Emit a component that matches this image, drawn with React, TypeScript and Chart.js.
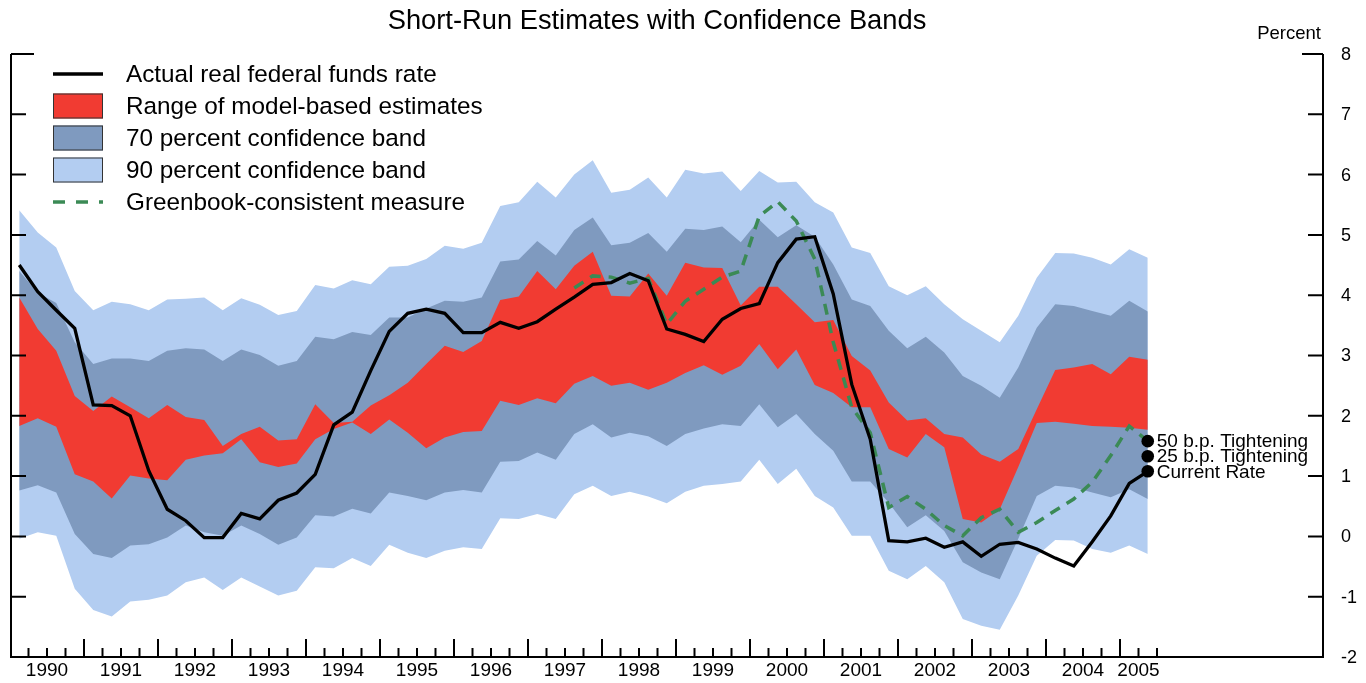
import React, { useEffect, useRef } from "react";
import { Chart, registerables } from "chart.js";

Chart.register(...registerables);

// ---------- data (quarterly, 1990Q1 .. 2005Q2) ----------
const START_YEAR = 1990;
const yearLabels = ["1990", "1991", "1992", "1993", "1994", "1995", "1996", "1997", "1998", "1999", "2000", "2001", "2002", "2003", "2004", "2005"];
const yTickValues = [-2, -1, 0, 1, 2, 3, 4, 5, 6, 7, 8];

const actualRate = [
  4.5, 4.06, 3.75, 3.45, 2.18, 2.17, 2.0, 1.09, 0.45, 0.26,
  -0.02, -0.02, 0.38, 0.29, 0.6, 0.72, 1.03, 1.85, 2.06, 2.75,
  3.4, 3.7, 3.77, 3.7, 3.38, 3.38, 3.55, 3.45, 3.56, 3.77,
  3.97, 4.18, 4.21, 4.36, 4.24, 3.44, 3.35, 3.23, 3.6, 3.78,
  3.86, 4.54, 4.93, 4.97, 4.02, 2.52, 1.61, -0.07, -0.09, -0.03,
  -0.18, -0.09, -0.33, -0.13, -0.1, -0.21, -0.36, -0.49, -0.09, 0.34,
  0.88, 1.08,
];

const greenbookStart = 30;
const greenbook = [
  4.12, 4.32, 4.3, 4.2, 4.28, 3.52, 3.9, 4.1, 4.3, 4.4,
  5.31, 5.55, 5.23, 4.6, 3.22, 2.14, 1.72, 0.48, 0.66, 0.45,
  0.18, 0.01, 0.31, 0.45, 0.07, 0.23, 0.43, 0.62, 0.9, 1.34,
  1.83, 1.58,
];

const band90Upper = [
  5.41, 5.04, 4.79, 4.07, 3.75, 3.89, 3.85, 3.75, 3.93, 3.94,
  3.96, 3.75, 3.95, 3.84, 3.67, 3.74, 4.17, 4.11, 4.25, 4.18,
  4.47, 4.49, 4.6, 4.82, 4.77, 4.87, 5.48, 5.54, 5.88, 5.62,
  6.0, 6.24, 5.7, 5.75, 5.95, 5.62, 6.08, 6.02, 6.05, 5.73,
  6.06, 5.87, 5.88, 5.54, 5.37, 4.79, 4.7, 4.15, 4.0, 4.15,
  3.85, 3.6, 3.41, 3.22, 3.66, 4.29, 4.7, 4.69, 4.62, 4.51,
  4.76, 4.62,
];
const band90Lower = [
  -0.04, 0.07, 0.01, -0.87, -1.22, -1.33, -1.08, -1.05, -0.98, -0.76,
  -0.68, -0.89, -0.68, -0.83, -0.98, -0.9, -0.51, -0.53, -0.36, -0.49,
  -0.14, -0.27, -0.36, -0.24, -0.18, -0.21, 0.3, 0.29, 0.37, 0.29,
  0.7, 0.84, 0.67, 0.74, 0.66, 0.55, 0.74, 0.84, 0.87, 0.91,
  1.27, 0.87, 1.12, 0.67, 0.48, 0.01, 0.01, -0.57, -0.71, -0.49,
  -0.76, -1.37, -1.48, -1.55, -0.98, -0.32, -0.06, -0.07, -0.21, -0.27,
  -0.15, -0.29,
];
const band70Upper = [
  4.4, 4.04, 3.87, 3.22, 2.86, 2.95, 2.95, 2.91, 3.08, 3.12,
  3.1, 2.91, 3.1, 3.01, 2.83, 2.91, 3.31, 3.27, 3.39, 3.34,
  3.63, 3.63, 3.78, 3.91, 3.89, 3.96, 4.56, 4.59, 4.9, 4.66,
  5.08, 5.29, 4.83, 4.87, 5.03, 4.72, 5.1, 5.08, 5.14, 4.88,
  5.25, 4.96, 5.16, 4.97, 4.51, 3.93, 3.82, 3.41, 3.12, 3.31,
  3.05, 2.66, 2.5, 2.3, 2.8, 3.46, 3.85, 3.82, 3.74, 3.66,
  3.91, 3.73,
];
const band70Lower = [
  0.76, 0.85, 0.73, 0.04, -0.29, -0.36, -0.15, -0.13, -0.02, 0.18,
  0.07, 0.01, 0.18, 0.04, -0.14, -0.02, 0.35, 0.33, 0.46, 0.38,
  0.73, 0.67, 0.6, 0.73, 0.77, 0.73, 1.24, 1.25, 1.39, 1.27,
  1.7, 1.86, 1.64, 1.72, 1.66, 1.5, 1.7, 1.79, 1.86, 1.83,
  2.19, 1.81, 2.03, 1.7, 1.42, 0.91, 0.91, 0.56, 0.15, 0.35,
  0.09, -0.43, -0.6, -0.71, -0.04, 0.67, 0.84, 0.81, 0.73, 0.65,
  0.78, 0.62,
];
const modelUpper = [
  3.96, 3.44, 3.08, 2.33, 2.08, 2.32, 2.14, 1.96, 2.18, 1.98,
  1.93, 1.5, 1.7, 1.82, 1.59, 1.61, 2.19, 1.88, 1.9, 2.17,
  2.34, 2.55, 2.86, 3.16, 3.06, 3.24, 3.92, 3.98, 4.4, 4.1,
  4.49, 4.72, 3.99, 3.98, 4.36, 3.99, 4.54, 4.46, 4.45, 3.83,
  4.14, 4.14, 3.85, 3.55, 3.59, 2.99, 2.75, 2.22, 1.92, 1.96,
  1.7, 1.64, 1.36, 1.24, 1.45, 2.11, 2.76, 2.8, 2.86, 2.69,
  2.98, 2.93,
];
const modelLower = [
  1.83, 1.96, 1.82, 1.03, 0.91, 0.63, 1.01, 0.96, 0.93, 1.27,
  1.34, 1.38, 1.61, 1.23, 1.15, 1.21, 1.61, 1.78, 1.89, 1.7,
  1.94, 1.72, 1.46, 1.64, 1.73, 1.75, 2.25, 2.18, 2.29, 2.21,
  2.53, 2.66, 2.5, 2.55, 2.43, 2.55, 2.71, 2.84, 2.68, 2.83,
  3.19, 2.77, 3.1, 2.51, 2.38, 2.14, 2.14, 1.45, 1.31, 1.7,
  1.48, 0.29, 0.23, 0.45, 1.15, 1.88, 1.9, 1.87, 1.83, 1.82,
  1.8, 1.77,
];

const endLabels = ["50 b.p. Tightening", "25 b.p. Tightening", "Current Rate"];
const endValues = [1.58, 1.33, 1.08];

const legendLabels = [
  "Actual real federal funds rate",
  "Range of model-based estimates",
  "70 percent confidence band",
  "90 percent confidence band",
  "Greenbook-consistent measure",
];

// ---------- styles ----------
const FONT = '"Liberation Sans", Arial, Helvetica, sans-serif';
const C_LIGHT = "#b3cdf1";
const C_MID = "#7f9abf";
const C_RED = "#f13b32";
const C_GREEN = "#3b8a55";

const qx = (i: number) => START_YEAR + (i + 0.5) / 4;
const toPts = (arr: number[], start = 0) => arr.map((v, k) => ({ x: qx(start + k), y: v }));

const decorPlugin = {
  id: "decor",
  afterDatasetsDraw(chart: any) {
    const ctx = chart.ctx;
    const xs = chart.scales.x;
    const ys = chart.scales.y;
    const left = 11;
    const right = 1323;
    const top = ys.getPixelForValue(8);
    const bottom = ys.getPixelForValue(-2);
    ctx.save();
    ctx.strokeStyle = "#000";
    ctx.fillStyle = "#000";
    ctx.lineWidth = 2;
    ctx.lineCap = "butt";
    // axes lines
    ctx.beginPath();
    ctx.moveTo(left, top);
    ctx.lineTo(left, bottom);
    ctx.lineTo(right, bottom);
    ctx.lineTo(right, top);
    ctx.stroke();
    // y ticks
    yTickValues.forEach((v) => {
      if (v === -2) return;
      const y = ys.getPixelForValue(v);
      const lenL = v === 8 ? 23 : 15;
      const lenR = v === 8 ? 21 : 15;
      ctx.beginPath();
      ctx.moveTo(left, y);
      ctx.lineTo(left + lenL, y);
      ctx.moveTo(right, y);
      ctx.lineTo(right - lenR, y);
      ctx.stroke();
    });
    // right labels
    ctx.font = `18px ${FONT}`;
    ctx.textAlign = "left";
    ctx.textBaseline = "middle";
    yTickValues.forEach((v) => {
      ctx.fillText(String(v), 1341, ys.getPixelForValue(v) + 1);
    });
    ctx.textAlign = "right";
    ctx.textBaseline = "alphabetic";
    ctx.font = `18.5px ${FONT}`;
    ctx.fillText("Percent", 1321, 39);
    // x ticks (quarterly)
    const nQ = yearLabels.length * 4 - 2;
    for (let q = 1; q <= nQ; q++) {
      const x = xs.getPixelForValue(START_YEAR + q / 4);
      const len = q % 4 === 0 ? 18 : 9;
      ctx.beginPath();
      ctx.moveTo(x, bottom);
      ctx.lineTo(x, bottom - len);
      ctx.stroke();
    }
    // year labels (last year centred over its partial span)
    ctx.font = `19px ${FONT}`;
    ctx.textAlign = "center";
    ctx.textBaseline = "middle";
    yearLabels.forEach((lab, k) => {
      const mid = k === yearLabels.length - 1 ? START_YEAR + k + 0.25 : START_YEAR + k + 0.5;
      ctx.fillText(lab, xs.getPixelForValue(mid), 671);
    });
    // title
    ctx.font = `27.3px ${FONT}`;
    ctx.fillText("Short-Run Estimates with Confidence Bands", 657, 21);
    // end labels
    const meta = chart.getDatasetMeta(2);
    ctx.font = `19px ${FONT}`;
    ctx.textAlign = "left";
    endLabels.forEach((lab, k) => {
      const p = meta.data[k];
      if (p) ctx.fillText(lab, p.x + 9, p.y + 1);
    });
    // legend
    const lx = 53;
    const tx = 126;
    const rows = [74, 106, 138, 170, 202];
    ctx.font = `24.3px ${FONT}`;
    ctx.textAlign = "left";
    ctx.textBaseline = "middle";
    legendLabels.forEach((lab, k) => ctx.fillText(lab, tx, rows[k] + 1));
    ctx.lineWidth = 3.5;
    ctx.beginPath();
    ctx.moveTo(lx, rows[0]);
    ctx.lineTo(lx + 50, rows[0]);
    ctx.stroke();
    const sw = [C_RED, C_MID, C_LIGHT];
    sw.forEach((c, k) => {
      const y = rows[k + 1] - 12.5;
      ctx.fillStyle = c;
      ctx.fillRect(lx, y, 50, 25);
      ctx.lineWidth = 1;
      ctx.strokeStyle = "#333";
      ctx.strokeRect(lx + 0.5, y + 0.5, 49, 24);
    });
    ctx.strokeStyle = C_GREEN;
    ctx.lineWidth = 3.5;
    ctx.setLineDash([12, 11]);
    ctx.beginPath();
    ctx.moveTo(lx, rows[4]);
    ctx.lineTo(lx + 50, rows[4]);
    ctx.stroke();
    ctx.setLineDash([]);
    ctx.restore();
  },
};

export default function App() {
  const ref = useRef<HTMLCanvasElement | null>(null);
  useEffect(() => {
    if (!ref.current) return;
    const hidden = { borderWidth: 0, pointRadius: 0, fill: false, tension: 0 };
    const endX = qx(actualRate.length - 1);
    const chart = new Chart(ref.current, {
      type: "line",
      data: {
        datasets: [
          {
            label: "Actual real federal funds rate",
            data: toPts(actualRate),
            borderColor: "#000",
            borderWidth: 3.3,
            pointRadius: 0,
            fill: false,
            tension: 0,
            order: 0,
          } as any,
          {
            label: "Greenbook-consistent measure",
            data: toPts(greenbook, greenbookStart),
            borderColor: C_GREEN,
            borderWidth: 3.5,
            borderDash: [11, 8],
            pointRadius: 0,
            fill: false,
            tension: 0,
            order: 1,
          },
          {
            label: "End points",
            data: endValues.map((v) => ({ x: endX, y: v })),
            showLine: false,
            pointRadius: 6.3,
            pointBackgroundColor: "#000",
            pointBorderWidth: 0,
            borderColor: "#000",
            order: 0,
          },
          { label: "model lower", data: toPts(modelLower), ...hidden, order: 3 },
          { label: "Range of model-based estimates", data: toPts(modelUpper), ...hidden, fill: "-1", backgroundColor: C_RED, order: 3 },
          { label: "70 lower", data: toPts(band70Lower), ...hidden, order: 4 },
          { label: "70 percent confidence band", data: toPts(band70Upper), ...hidden, fill: "-1", backgroundColor: C_MID, order: 4 },
          { label: "90 lower", data: toPts(band90Lower), ...hidden, order: 5 },
          { label: "90 percent confidence band", data: toPts(band90Upper), ...hidden, fill: "-1", backgroundColor: C_LIGHT, order: 5 },
        ],
      },
      options: {
        responsive: false,
        animation: false,
        layout: { padding: { left: 10, right: 43, top: 54, bottom: 26 } },
        scales: {
          x: { type: "linear", min: START_YEAR, max: START_YEAR + 1313 / 74, display: false },
          y: { type: "linear", min: -2, max: 8, display: false },
        },
        plugins: {
          legend: { display: false },
          tooltip: { enabled: false },
          title: { display: false },
        },
        events: [],
      },
      plugins: [decorPlugin],
    } as any);
    return () => chart.destroy();
  }, []);
  return (
    <div style={{ position: "fixed", left: 0, top: 0, width: 1366, height: 683, background: "#fff" }}>
      <canvas ref={ref} width={1366} height={683} style={{ display: "block" }} />
    </div>
  );
}
